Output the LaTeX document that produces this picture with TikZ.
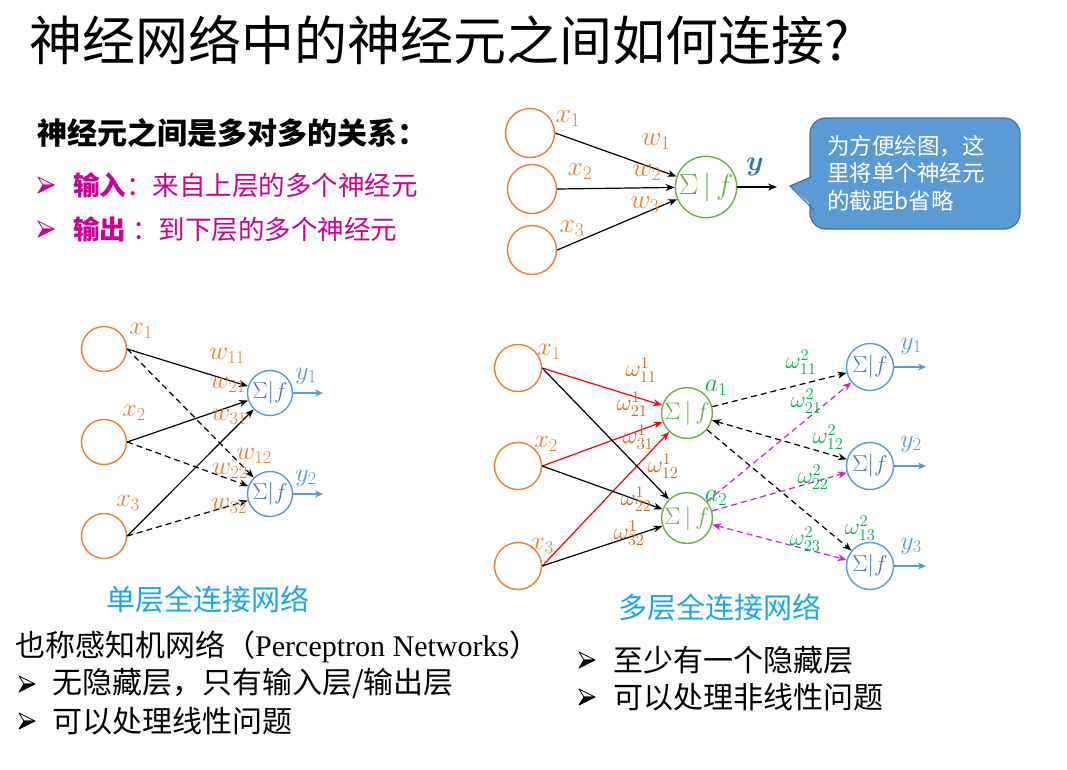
\RequirePackage{fix-cm}
\documentclass[tikz,border=0pt]{standalone}
\usepackage{fontspec}
\usepackage{bm}
\setmainfont{Liberation Serif}
\newfontfamily\cjk{Noto Sans CJK SC}
\usetikzlibrary{arrows.meta}
\definecolor{org}{HTML}{ED7D31}
\definecolor{orgD}{HTML}{D4661C}
\definecolor{grn}{HTML}{70AD47}
\definecolor{grnT}{HTML}{00B050}
\definecolor{blu}{HTML}{5B9BD5}
\definecolor{bluT}{HTML}{4472C4}
\definecolor{ybl}{HTML}{2E75B6}
\definecolor{mag}{HTML}{CC0099}
\definecolor{capc}{HTML}{1AA7EC}
\definecolor{callB}{HTML}{41719C}
\definecolor{pnk}{HTML}{CC22CC}
\tikzset{
  inp/.style={circle,draw=org,line width=1.4pt,minimum size=#1,inner sep=0pt},
  inp/.default=47pt,
  sumg/.style={circle,draw=grn,line width=1.4pt,minimum size=#1,inner sep=0pt,text=grn,font=\fontsize{24}{26}\selectfont},
  sumg/.default=47pt,
  sumb/.style={circle,draw=blu,line width=1.4pt,minimum size=#1,inner sep=0pt,text=bluT,font=\fontsize{23}{26}\selectfont},
  sumb/.default=46pt,
  arr/.style={-{Stealth[length=9pt,width=7pt]},line width=1.2pt},
  darr/.style={arr,dash pattern=on 6pt off 4pt},
  barr/.style={-{Stealth[length=8pt,width=7pt]},line width=1.2pt,draw=blu},
  lab/.style={inner sep=0pt,font=\fontsize{26}{28}\selectfont},
  wlab/.style={inner sep=0pt,font=\fontsize{23.5}{25}\selectfont},
  tlab/.style={inner sep=0pt,text=org,font=\fontsize{27.5}{29}\selectfont},
  cjkt/.style={inner sep=0pt,anchor=west,font=\cjk},
}
% 3D arrow bullet: x, y, colour
\newcommand\arrowbullet[3]{%
  \filldraw[fill=white,draw=#3,line width=0.8pt,line join=round,shift={(#1,#2)}] (0,-8) -- (16,0) -- (5,0) -- cycle;
  \filldraw[fill=#3,draw=#3,line width=0.8pt,line join=round,shift={(#1,#2)}] (5,0) -- (16,0) -- (0,8) -- cycle;
}
\begin{document}
\begin{tikzpicture}[x=1pt,y=-1pt]
\useasboundingbox (0,0) rectangle (1067,769);

% title
\node[cjkt] (title) at (29,40) {\fontsize{53}{60}\selectfont 神经网络中的神经元之间如何连接?};

% heading and bullets
\node[cjkt] (head) at (37,133) {\fontsize{30}{34}\selectfont\bfseries 神经元之间是多对多的关系：};
\arrowbullet{38}{185}{mag}
\node[cjkt,text=mag] (in1) at (73,185) {\fontsize{26.5}{30}\selectfont{\bfseries 输入}：来自上层的多个神经元};
\arrowbullet{38}{229}{mag}
\node[cjkt,text=mag] (in2) at (73,229) {\fontsize{26.5}{30}\selectfont{\bfseries 输出} ：到下层的多个神经元};

% top neuron
\node[inp=49pt] (t1) at (530,133) {};
\node[inp=49pt] (t2) at (532,189) {};
\node[inp=49pt] (t3) at (532,250) {};
\node[sumg=60pt,font=\fontsize{29}{31}\selectfont] (ts) at (706,187) {$\Sigma\,|\,f$};
\coordinate (tout) at (777,187);
\draw[arr] (t1.east) -- (ts);
\draw[arr] (t2.east) -- (ts);
\draw[arr] (t3.east) -- (ts);
\draw[arr] (ts) -- (tout);
\node[tlab] (tx1) at (568,119) {$x_1$};
\node[tlab] (tx2) at (580,172) {$x_2$};
\node[tlab] (tx3) at (572,229) {$x_3$};
\node[tlab] (tw1) at (656,142) {$w_1$};
\node[tlab] (tw2) at (647,173) {$w_2$};
\node[tlab] (tw3) at (645,205) {$w_3$};
\node[lab,text=ybl,font=\fontsize{28}{30}\selectfont] (ty) at (755,167) {$\bm{y}$};

% callout
\node[rectangle,rounded corners=16pt,fill=blu,draw=callB,line width=1.2pt,minimum width=210pt,minimum height=111pt,inner sep=0pt] (call) at (915,173.5) {};
\fill[blu] (813,176) -- (790,186) -- (815,208) -- cycle;
\draw[callB,line width=1.2pt,line join=round] (811,177) -- (790,186) -- (814,210);
\node[inner sep=0pt,align=left,text=white,font=\cjk\fontsize{22.5}{27.5}\selectfont,anchor=north west] (callt) at (827,135) {为方便绘图，这\\里将单个神经元\\的截距b省略};

% single-layer network
\node[inp=45pt] (s1) at (104,349) {};
\node[inp=45pt] (s2) at (104,442) {};
\node[inp=45pt] (s3) at (104,536) {};
\node[sumb=45pt] (sy1) at (270,393) {$\Sigma|f$};
\node[sumb=45pt] (sy2) at (270,494) {$\Sigma|f$};
\coordinate (so1) at (323,393);
\coordinate (so2) at (323,494);
\draw[arr] (s1.east) -- (sy1);
\draw[darr] (s1.east) -- (sy2);
\draw[arr] (s2.east) -- (sy1);
\draw[darr] (s2.east) -- (sy2);
\draw[arr] (s3.east) -- (sy1);
\draw[darr] (s3.east) -- (sy2);
\draw[barr] (sy1) -- (so1);
\draw[barr] (sy2) -- (so2);
\node[lab,text=org] (sx1) at (141,331) {$x_1$};
\node[lab,text=org] (sx2) at (134,413) {$x_2$};
\node[lab,text=org] (sx3) at (128,503) {$x_3$};
\node[lab,text=blu] (sl1) at (306,376) {$y_1$};
\node[lab,text=blu] (sl2) at (306,478) {$y_2$};
\node[lab,text=org] (w11) at (227,356) {$w_{11}$};
\node[lab,text=org] (w21) at (228,385) {$w_{21}$};
\node[lab,text=org] (w31) at (229,417) {$w_{31}$};
\node[lab,text=org] (w12) at (254,456) {$w_{12}$};
\node[lab,text=org] (w22) at (230,471) {$w_{22}$};
\node[lab,text=org] (w32) at (229,506) {$w_{32}$};

% multi-layer network
\node[inp] (m1) at (518,368) {};
\node[inp] (m2) at (518,466) {};
\node[inp] (m3) at (518,566) {};
\node[sumg] (h1) at (687,413) {$\Sigma\,|\,f$};
\node[sumg] (h2) at (687,518) {$\Sigma\,|\,f$};
\node[sumb=47pt] (q1) at (870,367) {$\Sigma|f$};
\node[sumb=47pt] (q2) at (870,466) {$\Sigma|f$};
\node[sumb=47pt] (q3) at (870,566) {$\Sigma|f$};
\coordinate (qo1) at (926,367);
\coordinate (qo2) at (926,466);
\coordinate (qo3) at (926,566);
\draw[arr,red] (m1.east) -- (h1);
\draw[arr,red] (m2.east) -- (h1);
\draw[arr,red] (m3.east) -- (h1);
\draw[arr] (m1.east) -- (h2);
\draw[arr] (m2.east) -- (h2);
\draw[arr] (m3.east) -- (h2);
\draw[darr] (h1) -- (q1);
\draw[darr,{Stealth[length=9pt,width=7pt]}-{Stealth[length=9pt,width=7pt]}] (h1) -- (q2);
\draw[darr] (h1) -- (q3);
\draw[darr,pnk] (h2) -- (q1);
\draw[darr,pnk] (h2) -- (q2);
\draw[darr,pnk,{Stealth[length=9pt,width=7pt]}-{Stealth[length=9pt,width=7pt]}] (h2) -- (q3);
\draw[barr] (q1) -- (qo1);
\draw[barr] (q2) -- (qo2);
\draw[barr] (q3) -- (qo3);
\node[lab,text=org] (mx1) at (549,352) {$x_1$};
\node[lab,text=org] (mx2) at (546,444) {$x_2$};
\node[lab,text=org] (mx3) at (542,546) {$x_3$};
\node[lab,text=grnT] (a1) at (716,388) {$a_1$};
\node[lab,text=grnT] (a2) at (716,498) {$a_2$};
\node[lab,text=blu] (my1) at (911,346) {$y_1$};
\node[lab,text=blu] (my2) at (911,444) {$y_2$};
\node[lab,text=blu] (my3) at (911,546) {$y_3$};
\node[wlab,text=orgD] (v11) at (641,370) {$\omega^1_{11}$};
\node[wlab,text=orgD] (v21) at (632,404) {$\omega^1_{21}$};
\node[wlab,text=orgD] (v31) at (638,437) {$\omega^1_{31}$};
\node[wlab,text=orgD] (v12) at (663,466) {$\omega^1_{12}$};
\node[wlab,text=orgD] (v22) at (636,499) {$\omega^1_{22}$};
\node[wlab,text=orgD] (v32) at (629,533) {$\omega^1_{32}$};
\node[wlab,text=grnT] (u11) at (801,362) {$\omega^2_{11}$};
\node[wlab,text=grnT] (u21) at (806,401) {$\omega^2_{21}$};
\node[wlab,text=grnT] (u12) at (828,437) {$\omega^2_{12}$};
\node[wlab,text=grnT] (u22) at (813,477) {$\omega^2_{22}$};
\node[wlab,text=grnT] (u13) at (860,528) {$\omega^2_{13}$};
\node[wlab,text=grnT] (u23) at (805,539) {$\omega^2_{23}$};

% captions
\node[inner sep=0pt,text=capc,font=\cjk\fontsize{29}{32}\selectfont] (cap1) at (208,599) {单层全连接网络};
\node[inner sep=0pt,text=capc,font=\cjk\fontsize{29}{32}\selectfont] (cap2) at (720,607) {多层全连接网络};

% bottom left text
\node[cjkt] (bl0) at (15,647) {\fontsize{30}{33}\selectfont 也称感知机网络（{\rmfamily Perceptron Networks}）};
\arrowbullet{19}{684}{black}
\node[cjkt] (bl1) at (52,684) {\fontsize{30}{33}\selectfont 无隐藏层，只有输入层/输出层};
\arrowbullet{19}{721}{black}
\node[cjkt] (bl2) at (52,721) {\fontsize{30}{33}\selectfont 可以处理线性问题};

% bottom right text
\arrowbullet{579}{660}{black}
\node[cjkt] (br1) at (613,660) {\fontsize{30}{33}\selectfont 至少有一个隐藏层};
\arrowbullet{579}{697}{black}
\node[cjkt] (br2) at (613,697) {\fontsize{30}{33}\selectfont 可以处理非线性问题};
\end{tikzpicture}
\end{document}
